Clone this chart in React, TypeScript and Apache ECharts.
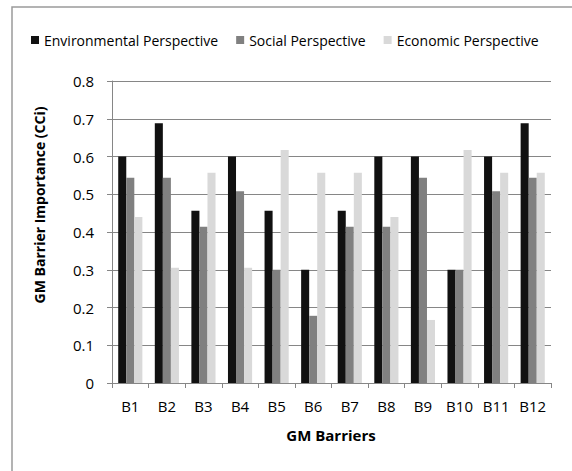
import React, { useEffect, useRef } from "react";
import * as echarts from "echarts";

const categories = ["B1", "B2", "B3", "B4", "B5", "B6", "B7", "B8", "B9", "B10", "B11", "B12"];
const environmental = [0.6, 0.688, 0.456, 0.6, 0.456, 0.3, 0.456, 0.6, 0.6, 0.3, 0.6, 0.688];
const social = [0.544, 0.544, 0.414, 0.508, 0.3, 0.178, 0.414, 0.414, 0.544, 0.3, 0.508, 0.544];
const economic = [0.44, 0.305, 0.557, 0.305, 0.617, 0.557, 0.557, 0.44, 0.167, 0.617, 0.557, 0.557];
const seriesNames = ["Environmental Perspective", "Social Perspective", "Economic Perspective"];
const yTicks = [0, 0.1, 0.2, 0.3, 0.4, 0.5, 0.6, 0.7, 0.8];

const FONT = "'Open Sans', sans-serif";

export default function App() {
  const ref = useRef<HTMLDivElement>(null);
  useEffect(() => {
    if (!ref.current) return;
    const chart = echarts.init(ref.current, null, { renderer: "svg" });
    const colors = ["#111111", "#808080", "#d9d9d9"];
    const values = [environmental, social, economic];
    const legendWidths = [178, 120, 144];
    chart.setOption({
      animation: false,
      backgroundColor: "#ffffff",
      textStyle: { fontFamily: FONT },
      legend: {
        left: 31,
        top: 33,
        padding: 0,
        itemWidth: 8,
        itemHeight: 8,
        itemGap: 18,
        icon: "rect",
        textStyle: { fontFamily: FONT, fontSize: 14, color: "#000" },
        data: seriesNames.map((n, i) => ({ name: n, textStyle: { width: legendWidths[i] } })),
      },
      grid: { left: 112, right: 21, top: 81, bottom: 88 },
      xAxis: {
        type: "category",
        data: categories,
        axisLine: { lineStyle: { color: "#868686", width: 1 } },
        axisTick: { show: true, length: 5, lineStyle: { color: "#868686" } },
        axisLabel: { fontFamily: FONT, fontSize: 15, color: "#000", margin: 15 },
      },
      yAxis: {
        type: "value",
        min: yTicks[0],
        max: yTicks[yTicks.length - 1],
        interval: 0.1,
        axisLine: { show: true, lineStyle: { color: "#868686", width: 1 } },
        axisTick: { show: true, length: 5, lineStyle: { color: "#868686" } },
        splitLine: { lineStyle: { color: "#868686", width: 1 } },
        axisLabel: {
          fontFamily: FONT,
          fontSize: 15,
          color: "#000",
          margin: 18,
          formatter: (v: number) => String(Math.round(v * 10) / 10),
        },
      },
      graphic: [
        {
          type: "rect",
          shape: { x: 12, y: 7, width: 700, height: 600 },
          style: { fill: "none", stroke: "#9a9a9a", lineWidth: 1.5 },
          silent: true,
        },
        {
          type: "text",
          x: 39,
          y: 205,
          rotation: Math.PI / 2,
          style: {
            text: "GM Barrier Importance (CCi)",
            fontFamily: FONT,
            fontSize: 14,
            fontWeight: "bold",
            fill: "#000",
            align: "center",
            verticalAlign: "middle",
          },
        },
        {
          type: "text",
          x: 331,
          y: 435,
          style: {
            text: "GM Barriers",
            fontFamily: FONT,
            fontSize: 15,
            fontWeight: "bold",
            fill: "#000",
            align: "center",
            verticalAlign: "middle",
          },
        },
      ],
      series: seriesNames.map((n, i) => ({
        name: n,
        type: "bar",
        data: values[i],
        barGap: "0%",
        barCategoryGap: "34%",
        itemStyle: { color: colors[i] },
      })),
    });
    return () => chart.dispose();
  }, []);
  return <div ref={ref} style={{ position: "fixed", left: 0, top: 0, width: 572, height: 471 }} />;
}
